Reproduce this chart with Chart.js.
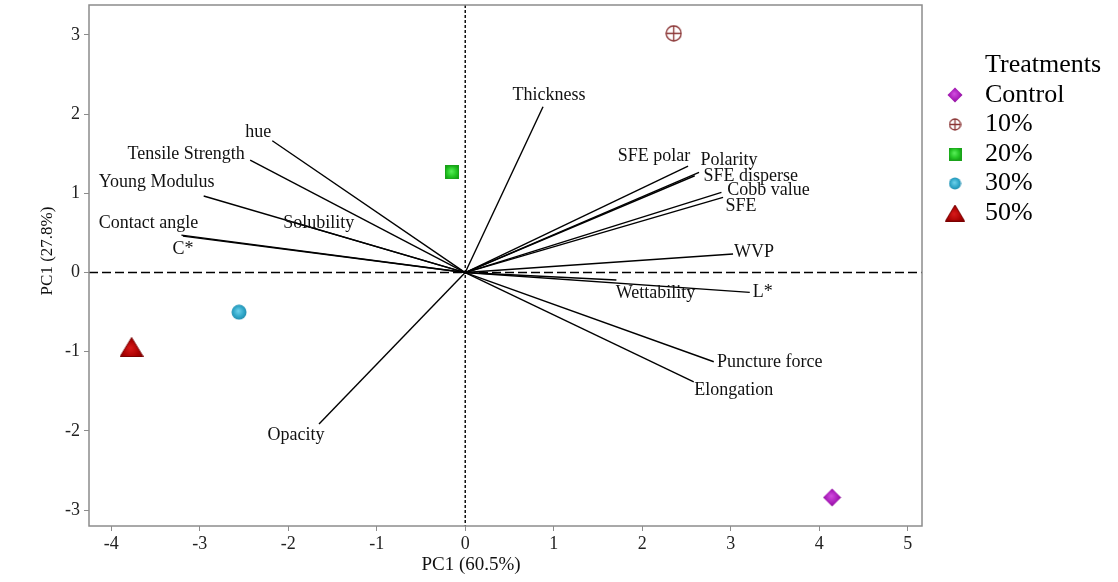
<!DOCTYPE html>
<html>
<head>
<meta charset="utf-8">
<title>PCA biplot</title>
<script src="https://cdn.jsdelivr.net/npm/chart.js@4.4.1/dist/chart.umd.min.js"></script>
<style>
  html, body { margin: 0; padding: 0; background: #fff; }
  #wrap { width: 1118px; height: 582px; }
</style>
</head>
<body>
<div id="wrap"><canvas id="biplot" width="1118" height="582"></canvas></div>
<script>
// ---- Scores (treatments) ----
const treatments = ['Control', '10%', '20%', '30%', '50%'];
const scoreX = [4.145, 2.356, -0.15, -2.556, -3.77];
const scoreY = [-2.84, 3.02, 1.265, -0.50, -0.94];

// ---- Loadings (variables) ----
const variables = ['hue', 'Tensile Strength', 'Young Modulus', 'Solubility', 'Contact angle', 'C*',
  'Opacity', 'Thickness', 'SFE polar', 'Polarity', 'SFE disperse', 'Cobb value', 'SFE',
  'WVP', 'L*', 'Wettability', 'Puncture force', 'Elongation'];
const loadX = [-2.18, -2.43, -2.955, -1.95, -3.207, -3.19,
  -1.652, 0.879, 2.518, 2.642, 2.593, 2.895, 2.913,
  3.026, 3.215, 1.708, 2.808, 2.582];
const loadY = [1.664, 1.42, 0.966, 0.637, 0.473, 0.46,
  -1.913, 2.093, 1.345, 1.265, 1.222, 1.013, 0.949,
  0.234, -0.25, -0.095, -1.126, -1.379];

// ---- Axis ticks and titles ----
const xTicks = [-4, -3, -2, -1, 0, 1, 2, 3, 4, 5];
const yTicks = [-3, -2, -1, 0, 1, 2, 3];
const xTitle = 'PC1 (60.5%)';
const yTitle = 'PC1 (27.8%)';
const legendTitle = 'Treatments';

// label placement for each loading name: pixel offset of text centre from the arrow tip
const labelOffsets = [
  [-14, -8], [-64, -6], [-47, -14], [26, 1], [-33, -12], [0, 13],
  [-23, 11], [6, -12], [-34, -10], [30, -12], [56, 1], [47, -2], [18, 9],
  [21, -2], [13, 0], [39, 13], [56, 1], [40, 8]
];

const SERIF = '"Liberation Serif", "Times New Roman", serif';

// ---- shaded marker sprites ----
function sprite(w, h, draw) {
  const c = document.createElement('canvas');
  c.width = w; c.height = h;
  draw(c.getContext('2d'), w, h);
  return c;
}
function radial(ctx, w, h, light, mid, dark) {
  const g = ctx.createRadialGradient(w * 0.45, h * 0.42, 0, w / 2, h / 2, Math.max(w, h) * 0.6);
  g.addColorStop(0, light); g.addColorStop(0.55, mid); g.addColorStop(1, dark);
  return g;
}
function diamond(s) {
  return sprite(s, s, (ctx, w, h) => {
    ctx.beginPath();
    ctx.moveTo(w / 2, 0.5); ctx.lineTo(w - 0.5, h / 2); ctx.lineTo(w / 2, h - 0.5); ctx.lineTo(0.5, h / 2);
    ctx.closePath();
    ctx.fillStyle = radial(ctx, w, h, '#d24ee0', '#a81cb8', '#74067e');
    ctx.fill();
  });
}
function crossCircle(s) {
  return sprite(s, s, (ctx, w, h) => {
    const r = w / 2 - 1;
    ctx.strokeStyle = '#8a3434'; ctx.lineWidth = 1.3;
    ctx.beginPath(); ctx.arc(w / 2, h / 2, r, 0, Math.PI * 2); ctx.stroke();
    ctx.beginPath();
    ctx.moveTo(w / 2, h / 2 - r); ctx.lineTo(w / 2, h / 2 + r);
    ctx.moveTo(w / 2 - r, h / 2); ctx.lineTo(w / 2 + r, h / 2);
    ctx.stroke();
  });
}
function square(s) {
  return sprite(s, s, (ctx, w, h) => {
    ctx.fillStyle = radial(ctx, w, h, '#5cf05c', '#26c826', '#139a13');
    ctx.fillRect(0, 0, w, h);
    ctx.strokeStyle = '#1aa21a'; ctx.lineWidth = 1;
    ctx.strokeRect(0.5, 0.5, w - 1, h - 1);
  });
}
function disc(s) {
  return sprite(s, s, (ctx, w, h) => {
    ctx.beginPath(); ctx.arc(w / 2, h / 2, w / 2 - 0.5, 0, Math.PI * 2);
    ctx.fillStyle = radial(ctx, w, h, '#6fd2ec', '#2fa6c8', '#1a7c9c');
    ctx.fill();
  });
}
function triangle(w0, h0) {
  return sprite(w0, h0, (ctx, w, h) => {
    ctx.beginPath();
    ctx.moveTo(w / 2, 0.5); ctx.lineTo(w - 0.5, h - 0.5); ctx.lineTo(0.5, h - 0.5); ctx.closePath();
    ctx.fillStyle = radial(ctx, w, h * 1.3, '#d81a1a', '#a80000', '#6a0000');
    ctx.fill();
    ctx.strokeStyle = '#7a0000'; ctx.lineWidth = 1; ctx.stroke();
  });
}

const markers = [diamond(19), crossCircle(17), square(14), disc(16), triangle(24, 20)];
const legendMarkers = [diamond(16), crossCircle(13), square(13), disc(13), triangle(20, 17)];

// ---- datasets ----
const datasets = [];
treatments.forEach((name, i) => {
  datasets.push({
    type: 'scatter',
    label: name,
    data: [{ x: scoreX[i], y: scoreY[i] }],
    pointStyle: markers[i],
    pointRadius: 9,
    order: 0
  });
});
variables.forEach((name, i) => {
  datasets.push({
    type: 'line',
    label: name,
    data: [{ x: 0, y: 0 }, { x: loadX[i], y: loadY[i] }],
    borderColor: '#000',
    borderWidth: 1.4,
    pointRadius: 0,
    fill: false,
    order: 1
  });
});

// reference lines through the origin, plot frame, names, titles and legend
const framePlugin = {
  id: 'frame',
  beforeDatasetsDraw(chart) {
    const { ctx, chartArea: a, scales: { x, y } } = chart;
    const x0 = x.getPixelForValue(0), y0 = y.getPixelForValue(0);
    ctx.save();
    ctx.strokeStyle = '#000';
    ctx.lineWidth = 1.6;
    ctx.setLineDash([9, 4]);
    ctx.beginPath(); ctx.moveTo(a.left, y0); ctx.lineTo(a.right, y0); ctx.stroke();
    ctx.lineWidth = 1.4;
    ctx.setLineDash([3, 2]);
    ctx.beginPath(); ctx.moveTo(x0, a.top); ctx.lineTo(x0, a.bottom); ctx.stroke();
    ctx.setLineDash([]);
    ctx.strokeStyle = '#8c8c8c';
    ctx.lineWidth = 1.5;
    ctx.strokeRect(a.left, a.top, a.right - a.left, a.bottom - a.top);
    ctx.restore();
  },
  afterDatasetsDraw(chart) {
    const { ctx, scales: { x, y } } = chart;
    ctx.save();
    ctx.font = '18px ' + SERIF;
    ctx.fillStyle = '#111';
    ctx.textAlign = 'center';
    ctx.textBaseline = 'middle';
    variables.forEach((name, i) => {
      const px = x.getPixelForValue(loadX[i]) + labelOffsets[i][0];
      const py = y.getPixelForValue(loadY[i]) + labelOffsets[i][1];
      ctx.fillText(name, px, py);
    });
    ctx.restore();
  },
  afterDraw(chart) {
    const { ctx } = chart;
    ctx.save();
    ctx.fillStyle = '#111';
    ctx.font = '19px ' + SERIF;
    ctx.textAlign = 'center';
    ctx.textBaseline = 'middle';
    ctx.fillText(xTitle, 471, 565);
    ctx.save();
    ctx.translate(48, 251);
    ctx.rotate(-Math.PI / 2);
    ctx.font = '17px ' + SERIF;
    ctx.fillText(yTitle, 0, 0);
    ctx.restore();
    ctx.fillStyle = '#000';
    ctx.textAlign = 'left';
    ctx.font = '26px ' + SERIF;
    ctx.fillText(legendTitle, 985, 65);
    treatments.forEach((name, i) => {
      const cy = 95 + i * 29.5;
      const m = legendMarkers[i];
      ctx.drawImage(m, 955 - m.width / 2, cy - m.height / 2);
      ctx.fillText(name, 985, cy);
    });
    ctx.restore();
  }
};

new Chart(document.getElementById('biplot'), {
  type: 'scatter',
  data: { datasets },
  options: {
    responsive: false,
    animation: false,
    events: [],
    layout: { autoPadding: false, padding: { left: 0, top: 5, right: 196, bottom: 0 } },
    plugins: { legend: { display: false }, tooltip: { enabled: false } },
    scales: {
      x: {
        type: 'linear',
        min: -4.251, max: 5.161,
        afterFit(scale) { scale.height = 56; scale.paddingLeft = 0; scale.paddingRight = 0; },
        afterBuildTicks(scale) { scale.ticks = xTicks.map(v => ({ value: v })); },
        ticks: { font: { family: SERIF, size: 18 }, color: '#222', padding: 2, includeBounds: false },
        grid: { drawOnChartArea: false, drawTicks: true, tickLength: 5, color: '#8c8c8c' },
        border: { display: false }
      },
      y: {
        type: 'linear',
        min: -3.200, max: 3.378,
        afterFit(scale) { scale.width = 89; scale.paddingTop = 0; scale.paddingBottom = 0; },
        afterBuildTicks(scale) { scale.ticks = yTicks.map(v => ({ value: v })); },
        ticks: { font: { family: SERIF, size: 18 }, color: '#222', padding: 4, includeBounds: false },
        grid: { drawOnChartArea: false, drawTicks: true, tickLength: 5, color: '#8c8c8c' },
        border: { display: false }
      }
    }
  },
  plugins: [framePlugin]
});
</script>
</body>
</html>
